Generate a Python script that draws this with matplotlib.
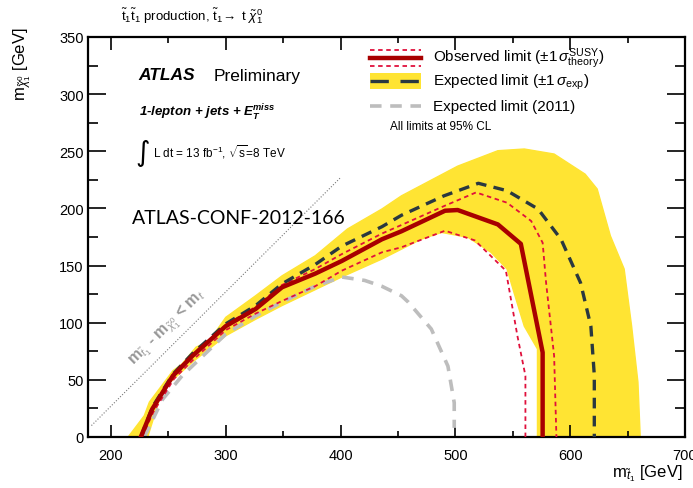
import matplotlib
matplotlib.use("Agg")
import matplotlib.pyplot as plt
from matplotlib.ticker import MultipleLocator

plt.rcParams['font.family'] = ['Liberation Sans', 'DejaVu Sans']
plt.rcParams['mathtext.fontset'] = 'custom'
plt.rcParams['mathtext.rm'] = 'Liberation Sans'
plt.rcParams['mathtext.it'] = 'Liberation Sans:italic'
plt.rcParams['mathtext.bf'] = 'Liberation Sans:italic:bold'
plt.rcParams['mathtext.sf'] = 'Liberation Sans'

# Observed limit (solid)
obs_x = [226, 236, 254, 271, 300, 326, 349, 378, 401, 436, 453, 491, 502, 537, 557, 576, 576]
obs_y = [0, 24.5, 53.6, 71, 97, 112, 131, 143, 154, 173, 180, 198, 198.6, 186, 169, 74, 0]

# Observed limit +1 sigma theory
obs_up_x = [226, 236, 254, 271, 300, 326, 349, 378, 401, 436, 453, 490, 518, 545, 566, 576, 579, 586, 588]
obs_up_y = [0, 25, 55, 72, 98, 114, 133, 147, 160, 178, 185.5, 202, 214, 205, 189, 170, 135, 71, 0]

# Observed limit -1 sigma theory
obs_dn_x = [227, 237, 255, 272, 300, 326, 349, 378, 401, 436, 453, 491, 517, 544, 554, 561, 561]
obs_dn_y = [0, 22, 51, 68, 93.5, 108, 119, 132, 145.5, 161.6, 166, 180.5, 172, 145.5, 88.6, 53.6, 0]

# Expected limit (dashed)
exp_x = [226, 236, 254, 271, 300, 326, 349, 378, 401, 436, 453, 490, 520, 545, 572, 592, 609, 618, 621, 621]
exp_y = [0, 26, 55, 73, 99, 115, 134, 151, 167, 184, 194, 211, 222, 215.5, 199.5, 173, 135, 97, 54, 0]

# +-1 sigma experimental band: outer edge, then inner edge
band_up_x = [215, 229, 233.5, 254, 262, 274, 285.5, 300, 326, 349, 378, 406, 436, 453,
             502, 537, 560, 586, 613, 623.5, 635, 647, 653.5, 659, 661]
band_up_y = [0, 18.6, 30.6, 58, 64, 78.5, 84, 104.7, 123.6, 141, 158.6, 182, 199.5, 211,
             237, 250.5, 252, 247.6, 230, 217, 176, 147, 97, 48, 0]
band_dn_x = [571.5, 571.5, 560, 551, 545, 531, 511, 488, 470, 436, 401, 349, 326, 300, 271, 245, 232]
band_dn_y = [0, 77, 97, 126.6, 147, 161.6, 174.7, 179, 173, 155.7, 140, 115, 103, 88.6, 65.6, 42, 0]

# Expected limit from 2011
exp11_x = [229, 245, 262, 300, 326, 349, 378, 401, 421, 435.7, 453, 459, 479, 493.5, 499, 499]
exp11_y = [0, 33, 53.6, 90, 106, 118, 132, 140, 137, 132, 123.6, 118, 94.5, 62, 30, 8]

# Kinematic boundary m_stop - m_chi = m_top
m_top = 173
diag_x = [183, 400]

C_OBS = '#a80000'
C_THEO = '#e0103c'
C_EXP = '#2a3840'
C_BAND = '#ffe433'
C_11 = '#bdbdbd'

fig = plt.figure(figsize=(6.93, 4.89), dpi=100)
ax = fig.add_axes([88 / 693, 51 / 489, 597 / 693, 400 / 489])

ax.fill(band_up_x + band_dn_x, band_up_y + band_dn_y, facecolor=C_BAND,
        edgecolor=C_BAND, linewidth=1.0, zorder=1)
ax.plot(exp11_x, exp11_y, color=C_11, lw=2.6, dashes=(3.2, 2.4), zorder=2)
ax.plot(obs_up_x, obs_up_y, color=C_THEO, lw=1.3, dashes=(2.5, 2.0), zorder=3)
ax.plot(obs_dn_x, obs_dn_y, color=C_THEO, lw=1.3, dashes=(2.5, 2.0), zorder=3)
ax.plot(exp_x, exp_y, color=C_EXP, lw=2.4, dashes=(3.2, 2.2), zorder=4)
ax.plot(obs_x, obs_y, color=C_OBS, lw=3.2, zorder=5)

ax.plot(diag_x, [v - m_top for v in diag_x], color='#777777', lw=0.8,
        linestyle=(0, (1, 1.6)), zorder=2)
ax.text(249, 96, r'm$_{\tilde{t}_1}$ - m$_{\tilde{\chi}^0_1}$ < m$_t$', color='#999999',
        fontsize=11.5, fontweight='bold', rotation=44.7, rotation_mode='anchor',
        ha='center', va='center')

ax.set_xlim(180, 700)
ax.set_ylim(0, 350)
ax.xaxis.set_major_locator(MultipleLocator(100))
ax.xaxis.set_minor_locator(MultipleLocator(50))
ax.yaxis.set_major_locator(MultipleLocator(50))
ax.yaxis.set_minor_locator(MultipleLocator(25))
ax.tick_params(axis='both', which='both', direction='in', top=True, right=True,
               labelsize=10.5, width=1.2, color='black')
ax.tick_params(axis='x', which='major', length=9, pad=8)
ax.tick_params(axis='x', which='minor', length=4.5)
ax.tick_params(axis='y', which='major', length=13, pad=3)
ax.tick_params(axis='y', which='minor', length=7)
for sp in ax.spines.values():
    sp.set_linewidth(1.6)

# Axis titles
fig.text(22 / 693, 1 - 27 / 489, r'm$_{\tilde{\chi}^0_1}$ [GeV]', rotation=90,
         fontsize=12, ha='center', va='top')
fig.text(683 / 693, 1 - 477 / 489, r'm$_{\tilde{t}_1}$ [GeV]', fontsize=12,
         ha='right', va='baseline')
fig.text(121 / 693, 1 - 16 / 489,
         r'$\tilde{\rm t}_1\tilde{\rm t}_1$ production, $\tilde{\rm t}_1\!\rightarrow$ t $\tilde{\chi}^0_1$',
         fontsize=9.5, ha='left', va='center')

# Labels inside the frame
fig.text(138 / 693, 1 - 76 / 489, 'ATLAS', fontsize=12.5, fontweight='bold',
         style='italic', ha='left', va='center')
fig.text(214 / 693, 1 - 76 / 489, 'Preliminary', fontsize=12.5, ha='left', va='center')
fig.text(139 / 693, 1 - 113 / 489,
         r'1-lepton + jets + $\mathbf{E}_{\mathbf{T}}^{\mathbf{miss}}$',
         fontsize=9.5, fontweight='bold', style='italic', ha='left', va='center')
fig.text(135 / 693, 1 - 153 / 489, '\u222b', fontsize=20, ha='left', va='center',
         family=['DejaVu Sans'])
fig.text(153 / 693, 1 - 152 / 489, r'L dt = 13 fb$^{-1}$, $\sqrt{\rm s}$=8 TeV',
         fontsize=8.5, ha='left', va='center')
fig.text(132 / 693, 1 - 218 / 489, 'ATLAS-CONF-2012-166', fontsize=14,
         family=['Lato', 'DejaVu Sans'], ha='left', va='center')

# Legend
tr = ax.transAxes
lx0, lx1 = (370 - 88) / 597, (421 - 88) / 597
tx = (433 - 88) / 597
r1, r2, r3 = (438 - 59) / 400, (438 - 82) / 400, (438 - 107) / 400
off = 8 / 400
ax.plot([lx0, lx1], [r1, r1], color=C_OBS, lw=3.2, transform=tr, clip_on=False)
ax.plot([lx0, lx1], [r1 + off, r1 + off], color=C_THEO, lw=1.3, dashes=(2.5, 2.0),
        transform=tr, clip_on=False)
ax.plot([lx0, lx1], [r1 - off, r1 - off], color=C_THEO, lw=1.3, dashes=(2.5, 2.0),
        transform=tr, clip_on=False)
ax.add_patch(plt.Rectangle((lx0, r2 - 0.021), lx1 - lx0, 0.042, transform=tr,
                           facecolor=C_BAND, edgecolor='none'))
ax.plot([lx0, lx1], [r2, r2], color=C_EXP, lw=2.4, dashes=(5.5, 3.5), transform=tr)
ax.plot([lx0, lx1], [r3, r3], color=C_11, lw=2.6, dashes=(3.2, 2.4), transform=tr)
ax.text(tx, r1, r'Observed limit ($\pm1\,\sigma^{\rm SUSY}_{\rm theory}$)', transform=tr,
        fontsize=11, ha='left', va='center')
ax.text(tx, r2, r'Expected limit ($\pm1\,\sigma_{\rm exp}$)', transform=tr,
        fontsize=11, ha='left', va='center')
ax.text(tx, r3, 'Expected limit (2011)', transform=tr, fontsize=11, ha='left', va='center')
ax.text((390 - 88) / 597, (438 - 127) / 400, 'All limits at 95% CL', transform=tr,
        fontsize=8.5, ha='left', va='center')

fig.savefig('out.png', dpi=100)
